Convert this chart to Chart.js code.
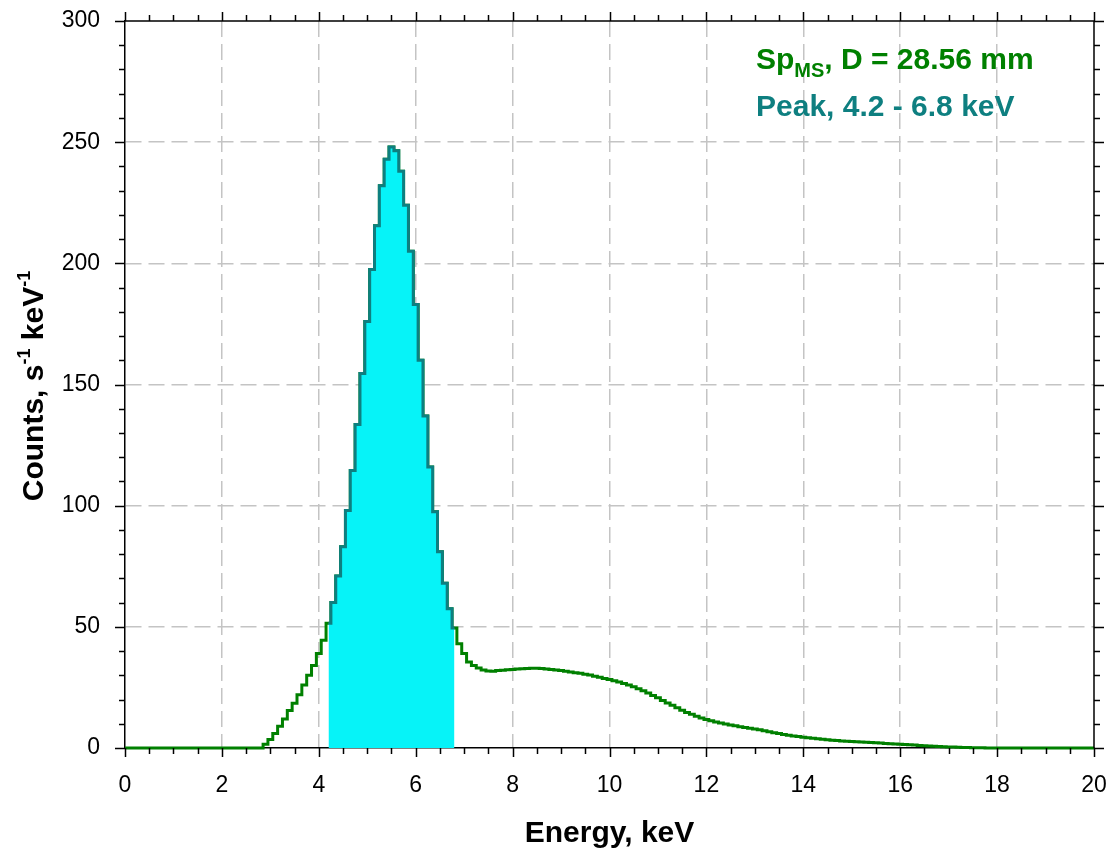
<!DOCTYPE html>
<html>
<head>
<meta charset="utf-8">
<title>Spectrum</title>
<script src="https://cdn.jsdelivr.net/npm/chart.js@4.4.1/dist/chart.umd.min.js"></script>
<style>
  html, body { margin: 0; padding: 0; background: #fff; }
  #wrap { width: 1113px; height: 848px; }
</style>
</head>
<body>
<div id="wrap"><canvas id="spChart" width="1113" height="848"></canvas></div>
<script>
// Spectrum values, one per 0.1 keV bin (bin centres 0.0 ... 20.0 keV)
const BIN_KEV = 0.1;
const counts = [
  0, 0, 0, 0, 0, 0, 0, 0, 0, 0,                               // 0.x
  0, 0, 0, 0, 0, 0, 0, 0, 0, 0,                               // 1.x
  0, 0, 0, 0, 0, 0, 0, 0, 0, 1.5,                             // 2.x
  3.5, 6, 9, 12, 15.5, 18.5, 22, 26, 30, 34,                  // 3.x
  39, 44.5, 51.5, 60, 71, 83, 98, 114.5, 133.5, 154.5,        // 4.x
  176, 197.5, 215.5, 232, 243, 248, 246.5, 238, 224, 205,     // 5.x
  183, 160, 137, 116, 97.5, 81, 68, 57.5, 49.5, 43,           // 6.x
  39, 35.5, 34, 33, 32.2, 31.8, 31.7, 32, 32.1, 32.3,         // 7.x
  32.4, 32.6, 32.7, 32.8, 32.9, 32.9, 32.8, 32.6, 32.4, 32.2, // 8.x
  32, 31.7, 31.4, 31.1, 30.8, 30.4, 30.1, 29.6, 29.2, 28.7,   // 9.x
  28.3, 27.8, 27.2, 26.6, 26, 25.3, 24.5, 23.6, 22.7, 21.7,   // 10.x
  20.7, 19.6, 18.6, 17.6, 16.6, 15.6, 14.7, 13.9, 13.1, 12.4, // 11.x
  11.8, 11.2, 10.7, 10.3, 9.9, 9.5, 9.2, 8.8, 8.5, 8.1,       // 12.x
  7.8, 7.5, 7.1, 6.7, 6.3, 6, 5.6, 5.3, 5, 4.7,               // 13.x
  4.4, 4.2, 4, 3.8, 3.6, 3.4, 3.2, 3.1, 2.9, 2.8,             // 14.x
  2.7, 2.6, 2.5, 2.4, 2.3, 2.2, 2.1, 1.9, 1.8, 1.6,           // 15.x
  1.5, 1.4, 1.3, 1.2, 1, 0.9, 0.8, 0.7, 0.6, 0.5,             // 16.x
  0.45, 0.4, 0.3, 0.25, 0.2, 0.15, 0.1, 0.08, 0.05, 0.03,     // 17.x
  0, 0, 0, 0, 0, 0, 0, 0, 0, 0,                               // 18.x
  0, 0, 0, 0, 0, 0, 0, 0, 0, 0,                               // 19.x
  0                                                           // 20.0
];
const peakRange = [4.2, 6.8];
const xTickLabels = [0, 2, 4, 6, 8, 10, 12, 14, 16, 18, 20];
const yTickLabels = [0, 50, 100, 150, 200, 250, 300];

const GREEN = '#008000';
const TEAL = '#0E7F80';
const CYAN = '#06F3F8';
const GRID = '#c4c4c4';
const FONT = '"Liberation Sans", Arial, sans-serif';

const energy = counts.map((c, i) => Math.round(i * BIN_KEV * 10) / 10);
const fullPts = energy.map((e, i) => ({ x: e, y: counts[i] }));
const peakPts = fullPts.filter(p => p.x >= peakRange[0] - 1e-6 && p.x <= peakRange[1] + 1e-6);

function isMajor(list, v) {
  return list.some(m => Math.abs(m - v) < 1e-6);
}

// draws a run of text pieces (normal / sup / sub) starting at x
function drawPieces(ctx, pieces, x, y) {
  pieces.forEach(p => {
    ctx.font = 'bold ' + p.size + 'px ' + FONT;
    ctx.fillText(p.t, x, y + (p.dy || 0));
    x += ctx.measureText(p.t).width;
  });
}
function piecesWidth(ctx, pieces) {
  let w = 0;
  pieces.forEach(p => {
    ctx.font = 'bold ' + p.size + 'px ' + FONT;
    w += ctx.measureText(p.t).width;
  });
  return w;
}

const frameAndText = {
  id: 'frameAndText',
  afterDraw(chart) {
    const { ctx, chartArea: a, scales: { x, y } } = chart;
    ctx.save();
    ctx.strokeStyle = '#000';
    ctx.lineWidth = 1.5;
    ctx.beginPath();
    ctx.moveTo(a.left, a.top); ctx.lineTo(a.right, a.top); ctx.lineTo(a.right, a.bottom);
    ctx.stroke();

    // tick marks outward on all four sides
    ctx.beginPath();
    x.ticks.forEach(t => {
      const px = Math.round(x.getPixelForValue(t.value)) + 0.5;
      const len = isMajor(xTickLabels, t.value) ? 9 : 6;
      ctx.moveTo(px, a.bottom); ctx.lineTo(px, a.bottom + len);
      ctx.moveTo(px, a.top); ctx.lineTo(px, a.top - len);
    });
    y.ticks.forEach(t => {
      const py = Math.round(y.getPixelForValue(t.value)) + 0.5;
      const len = isMajor(yTickLabels, t.value) ? 10 : 6;
      ctx.moveTo(a.left, py); ctx.lineTo(a.left - len, py);
      ctx.moveTo(a.right, py); ctx.lineTo(a.right + len, py);
    });
    ctx.stroke();

    // axis titles
    ctx.fillStyle = '#000';
    ctx.textBaseline = 'alphabetic';
    ctx.textAlign = 'left';
    const xTitle = [{ t: 'Energy, keV', size: 30 }];
    drawPieces(ctx, xTitle, (a.left + a.right) / 2 - piecesWidth(ctx, xTitle) / 2, 842);

    const yTitle = [
      { t: 'Counts, s', size: 30 },
      { t: '-1', size: 18, dy: -13 },
      { t: ' keV', size: 30 },
      { t: '-1', size: 18, dy: -13 }
    ];
    ctx.save();
    ctx.translate(43, 386);
    ctx.rotate(-Math.PI / 2);
    drawPieces(ctx, yTitle, -piecesWidth(ctx, yTitle) / 2, 0);
    ctx.restore();

    // notes in the upper right
    ctx.fillStyle = GREEN;
    drawPieces(ctx, [
      { t: 'Sp', size: 30 },
      { t: 'MS', size: 20, dy: 8 },
      { t: ', D = 28.56 mm', size: 30 }
    ], 756, 69);
    ctx.fillStyle = TEAL;
    drawPieces(ctx, [{ t: 'Peak, 4.2 - 6.8 keV', size: 30 }], 756, 116);
    ctx.restore();
  }
};

new Chart(document.getElementById('spChart'), {
  type: 'line',
  data: {
    datasets: [
      {
        label: 'Peak',
        data: peakPts,
        stepped: 'middle',
        borderColor: TEAL,
        borderWidth: 3,
        backgroundColor: CYAN,
        fill: 'origin',
        pointRadius: 0,
        clip: false,
        order: 0
      },
      {
        label: 'Spectrum',
        data: fullPts,
        stepped: 'middle',
        borderColor: GREEN,
        borderWidth: 3,
        fill: false,
        pointRadius: 0,
        clip: false,
        order: 1
      }
    ]
  },
  options: {
    responsive: false,
    animation: false,
    devicePixelRatio: 1,
    layout: { padding: { left: 0, right: 19, top: 21, bottom: 0 } },
    plugins: { legend: { display: false }, tooltip: { enabled: false } },
    scales: {
      x: {
        type: 'linear', min: 0, max: 20,
        afterFit: s => { s.height = 100; s.paddingLeft = 0; s.paddingRight = 0; },
        ticks: {
          stepSize: 0.5, autoSkip: false, maxRotation: 0, padding: 24,
          color: '#000', font: { size: 23, family: FONT },
          callback: v => isMajor(xTickLabels, v) ? String(v) : ''
        },
        grid: {
          drawTicks: false, lineWidth: 1.5,
          color: c => (c.tick && isMajor(xTickLabels, c.tick.value) && c.tick.value > 0 && c.tick.value < 20) ? GRID : 'rgba(0,0,0,0)'
        },
        border: { display: true, color: '#000', width: 1.5, dash: [16, 7] }
      },
      y: {
        type: 'linear', min: 0, max: 300,
        afterFit: s => { s.width = 125; s.paddingTop = 0; s.paddingBottom = 0; },
        ticks: {
          stepSize: 10, autoSkip: false, padding: 25,
          color: '#000', font: { size: 23, family: FONT },
          callback: v => isMajor(yTickLabels, v) ? String(v) : ''
        },
        grid: {
          drawTicks: false, lineWidth: 1.5,
          color: c => (c.tick && isMajor(yTickLabels, c.tick.value) && c.tick.value > 0 && c.tick.value < 300) ? GRID : 'rgba(0,0,0,0)'
        },
        border: { display: true, color: '#000', width: 1.5, dash: [16, 7] }
      }
    }
  },
  plugins: [frameAndText]
});
</script>
</body>
</html>
